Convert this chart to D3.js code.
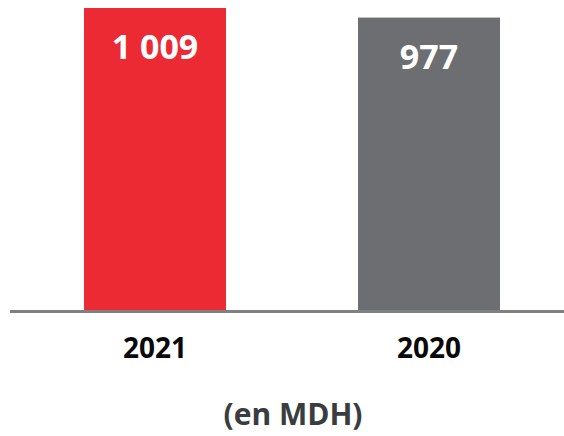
<!DOCTYPE html>
<html>
<head>
<meta charset="utf-8">
<script src="https://d3js.org/d3.v7.min.js"></script>
<style>
  html, body { margin: 0; padding: 0; background: #fff; }
  svg { display: block; }
</style>
</head>
<body>
<svg id="chart" width="564" height="436"></svg>
<script>
const categories = ["2021", "2020"];
const values = [1009, 977];
const valueLabels = ["1 009", "977"];
const colors = ["#EC2A34", "#6D6E71"];
const unitLabel = "(en MDH)";

const svg = d3.select("#chart");
const font = "'Open Sans', 'Lato', sans-serif";

const x = d3.scaleBand()
  .domain(categories)
  .range([10, 574])
  .paddingInner(0.4818)
  .paddingOuter(0.27);

const y = d3.scaleLinear()
  .domain([0, 1009])
  .range([310, 8]);

const data = categories.map((c, i) => ({ c, v: values[i], label: valueLabels[i], color: colors[i] }));

svg.selectAll("rect.bar")
  .data(data)
  .enter().append("rect")
  .attr("class", "bar")
  .attr("x", d => x(d.c))
  .attr("y", d => y(d.v))
  .attr("width", x.bandwidth())
  .attr("height", d => y(0) - y(d.v))
  .attr("fill", d => d.color);

// baseline axis
const axis = d3.axisBottom(x).tickSize(0).tickFormat("");
const gAxis = svg.append("g").attr("transform", `translate(0,${y(0) + 1.5})`).call(axis);
gAxis.select(".domain").attr("stroke", "#7F8080").attr("stroke-width", 3).attr("d", "M10,0H564");

svg.selectAll("text.val")
  .data(data)
  .enter().append("text")
  .attr("class", "val")
  .attr("x", d => x(d.c) + x.bandwidth() / 2)
  .attr("y", d => y(d.v) + 51)
  .attr("text-anchor", "middle")
  .attr("font-family", font)
  .attr("font-weight", "bold")
  .attr("font-size", 34)
  .attr("fill", "#fff")
  .text(d => d.label);

svg.selectAll("text.cat")
  .data(data)
  .enter().append("text")
  .attr("class", "cat")
  .attr("x", d => x(d.c) + x.bandwidth() / 2)
  .attr("y", 358)
  .attr("text-anchor", "middle")
  .attr("font-family", font)
  .attr("font-weight", "bold")
  .attr("font-size", 28)
  .attr("fill", "#0A0A0A")
  .text(d => d.c);

svg.append("text")
  .attr("x", 293)
  .attr("y", 425)
  .attr("text-anchor", "middle")
  .attr("font-family", font)
  .attr("font-weight", "bold")
  .attr("font-size", 30)
  .attr("fill", "#3A3D40")
  .text(unitLabel);
</script>
</body>
</html>
